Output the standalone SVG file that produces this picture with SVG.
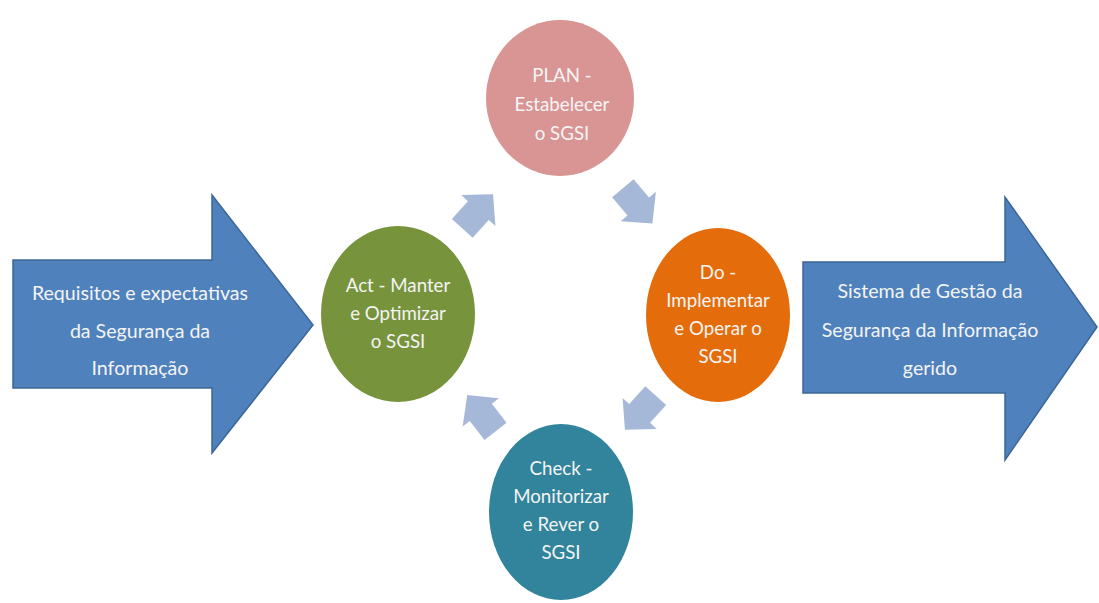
<svg xmlns="http://www.w3.org/2000/svg" width="1099" height="603" viewBox="0 0 1099 603">
<style>
text{font-family:Lato,"Liberation Sans",Arial,sans-serif;fill:#f4f4f4;text-anchor:middle}
.big{font-size:19.6px}
.sm{font-size:18.7px}
.blue{fill:#4f81bd;stroke:#3c6796;stroke-width:1.5}
.cyc{fill:#a6b8d8}
</style>
<defs>
<path id="ca" d="M-22,-14 L2,-14 L2,-23 L24,0 L2,23 L2,14 L-22,14 Z"/>
</defs>
<rect width="1099" height="603" fill="#ffffff"/>
<g id="input">
<polygon class="blue" points="13,260 212,260 212,195 313,325 212,453 212,388 13,388"/>
<text class="big" x="140" y="300">Requisitos e expectativas</text>
<text class="big" x="140" y="338">da Segurança da</text>
<text class="big" x="140" y="375">Informação</text>
</g>
<g id="output">
<polygon class="blue" points="803,262 1005,262 1005,197 1097,327 1005,460 1005,393 803,393"/>
<text class="big" x="930" y="298">Sistema de Gestão da</text>
<text class="big" x="930" y="337">Segurança da Informação</text>
<text class="big" x="930" y="375">gerido</text>
</g>
<g id="plan">
<ellipse cx="560" cy="98" rx="74" ry="78" fill="#d99594"/>
<text class="sm" x="562" y="82">PLAN  -</text>
<text class="sm" x="562" y="111">Estabelecer</text>
<text class="sm" x="562" y="140">o SGSI</text>
</g>
<g id="do">
<ellipse cx="718" cy="315" rx="72" ry="87" fill="#e46c0a"/>
<text class="sm" x="718" y="279">Do -</text>
<text class="sm" x="718" y="307">Implementar</text>
<text class="sm" x="718" y="335">e Operar o</text>
<text class="sm" x="718" y="363">SGSI</text>
</g>
<g id="check">
<ellipse cx="561" cy="512" rx="72" ry="88" fill="#31849b"/>
<text class="sm" x="561" y="475">Check -</text>
<text class="sm" x="561" y="503">Monitorizar</text>
<text class="sm" x="561" y="531">e Rever o</text>
<text class="sm" x="561" y="559">SGSI</text>
</g>
<g id="act">
<ellipse cx="398" cy="314" rx="77" ry="88" fill="#77933c"/>
<text class="sm" x="398" y="292">Act - Manter</text>
<text class="sm" x="398" y="320">e Optimizar</text>
<text class="sm" x="398" y="348">o SGSI</text>
</g>
<g id="connectors">
<use href="#ca" class="cyc" transform="translate(477,212) rotate(-48)"/>
<use href="#ca" class="cyc" transform="translate(637,205) rotate(50)"/>
<use href="#ca" class="cyc" transform="translate(641,412) rotate(132)"/>
<use href="#ca" class="cyc" transform="translate(482,414) rotate(-128)"/>
</g>
</svg>
